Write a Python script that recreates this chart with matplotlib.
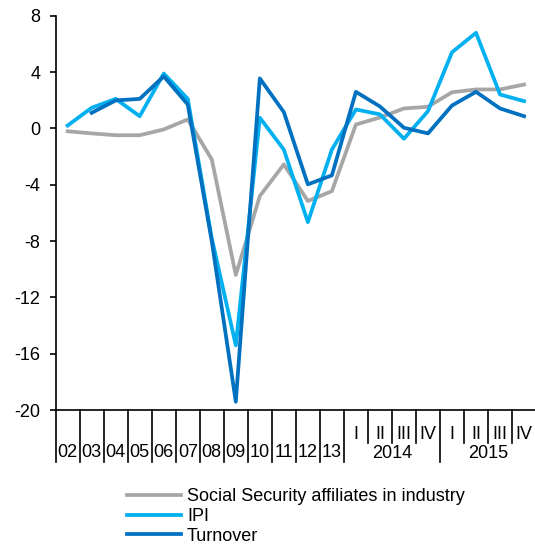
import matplotlib.pyplot as plt
import numpy as np

plt.rcParams["font.family"] = ["Liberation Sans", "DejaVu Sans"]
plt.rcParams["axes.unicode_minus"] = False

# -----------------------------
# Data (annual 2002-2013, then quarters of 2014 and 2015)
# -----------------------------
year_labels = ["02", "03", "04", "05", "06", "07", "08", "09", "10", "11", "12", "13"]
quarter_labels = ["I", "II", "III", "IV"]
quarter_years = ["2014", "2015"]

affiliates = [-0.2, -0.35, -0.48, -0.48, -0.07, 0.64, -2.2, -10.4, -4.8, -2.55, -5.15, -4.45,
              0.28, 0.78, 1.42, 1.54, 2.57, 2.77, 2.77, 3.12]
ipi = [0.21, 1.47, 2.1, 0.87, 3.9, 2.1, -7.8, -15.4, 0.76, -1.5, -6.65, -1.5,
       1.35, 1.0, -0.73, 1.23, 5.41, 6.79, 2.41, 1.94]
turnover = [np.nan, 1.11, 1.99, 2.1, 3.7, 1.7, -8.0, -19.4, 3.55, 1.16, -3.97, -3.33,
            2.6, 1.56, 0.05, -0.35, 1.63, 2.6, 1.42, 0.87]

GREY = "#A6A6A6"
LIGHT_BLUE = "#00B0F0"
DARK_BLUE = "#0070C0"
FS = 13


def main() -> None:
    n = len(year_labels) + len(quarter_years) * len(quarter_labels)
    x = np.arange(n)

    fig = plt.figure(figsize=(5.35, 5.44), dpi=100)
    ax = fig.add_axes([0.104, 0.246, 0.898, 0.725])

    ax.plot(x, affiliates, color=GREY, lw=2.7, label="Social Security affiliates in industry")
    ax.plot(x, ipi, color=LIGHT_BLUE, lw=2.7, label="IPI")
    ax.plot(x, turnover, color=DARK_BLUE, lw=2.7, label="Turnover")

    ax.set_xlim(-0.5, n - 0.5)
    ax.set_ylim(-20, 8)
    ax.set_yticks(range(-20, 9, 4))
    ax.tick_params(axis="y", direction="out", length=4, width=1.2, pad=7, labelsize=FS)
    ax.set_xticks([])

    for side in ("top", "right"):
        ax.spines[side].set_visible(False)
    for side in ("left", "bottom"):
        ax.spines[side].set_linewidth(1.2)

    # category axis: separators and labels
    trans = ax.get_xaxis_transform()
    n_years = len(year_labels)
    tall = list(range(n_years + 1))
    for i in range(len(quarter_years)):
        tall.append(n_years + (i + 1) * len(quarter_labels))
    for k in range(n + 1):
        depth = -0.132 if k in tall else -0.082
        ax.plot([k - 0.5, k - 0.5], [0, depth], color="black", lw=1.2,
                transform=trans, clip_on=False)

    for i, lab in enumerate(year_labels):
        ax.text(i, -0.108, lab, transform=trans, ha="center", va="center", fontsize=FS)
    for j, yr in enumerate(quarter_years):
        start = n_years + j * len(quarter_labels)
        for q, ql in enumerate(quarter_labels):
            ax.text(start + q, -0.062, ql, transform=trans, ha="center", va="center", fontsize=FS)
        ax.text(start + (len(quarter_labels) - 1) / 2, -0.11, yr, transform=trans,
                ha="center", va="center", fontsize=FS)

    fig.legend(loc="upper left", bbox_to_anchor=(0.238, 0.103), frameon=False,
               fontsize=FS, handlelength=3.0, handletextpad=0.3, labelspacing=0.16,
               borderpad=0, borderaxespad=0)

    fig.savefig("out.png", dpi=100)
    plt.close(fig)


if __name__ == "__main__":
    main()
